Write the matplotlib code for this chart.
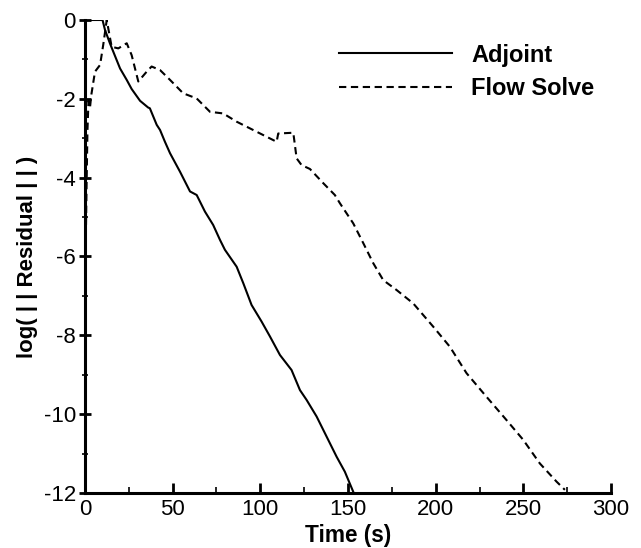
"""
Convergence history: adjoint vs flow solve
"""
import matplotlib
matplotlib.use('Agg')
import matplotlib.pyplot as plt
from matplotlib.ticker import MultipleLocator

plt.rcParams['font.family'] = ['Liberation Sans', 'DejaVu Sans']
plt.rcParams['axes.unicode_minus'] = False

#Data
adjoint_t = [0, 10, 11.4, 14.2, 18, 20, 23.8, 26.6, 31.4, 36, 37, 40.9, 42.8, 45.6, 48.5,
	54.2, 59.9, 63.7, 68.4, 73.1, 77, 79.8, 86.5, 90.3, 95, 100.7, 105.5, 111.2,
	117.8, 122.6, 126.4, 132.1, 137.8, 143.5, 148.2, 153]
adjoint_r = [0, 0, -0.25, -0.59, -1.01, -1.23, -1.52, -1.75, -2.05, -2.22, -2.24, -2.66, -2.79,
	-3.09, -3.38, -3.85, -4.35, -4.44, -4.86, -5.2, -5.58, -5.83, -6.26, -6.68, -7.23,
	-7.65, -8.03, -8.5, -8.88, -9.39, -9.64, -10.06, -10.57, -11.08, -11.46, -11.97]

flow_t = [0.4, 0.9, 1.4, 2.0, 2.9, 3.6, 5.7, 8.6, 10.4, 12.4, 15.2, 19, 23.8, 26.6, 30.4,
	35.2, 38, 42.8, 48.5, 56, 63.7, 71.3, 78.8, 86.5, 94.1, 101.7, 109.3, 110.2,
	118.8, 120.7, 123.5, 128.3, 135.9, 142.5, 145.4, 153, 158.7, 164.4, 170.1,
	177.7, 187.2, 198.6, 208.1, 217.6, 229, 240.4, 249.9, 259.4, 268.9, 273.7]
flow_r = [-5.8, -4.2, -2.8, -2.05, -2.2, -1.9, -1.31, -1.14, -0.63, 0, -0.68, -0.72, -0.59,
	-0.89, -1.56, -1.31, -1.18, -1.27, -1.52, -1.86, -1.99, -2.33, -2.37, -2.58,
	-2.75, -2.92, -3.09, -2.88, -2.86, -3.51, -3.68, -3.78, -4.14, -4.44, -4.65,
	-5.16, -5.66, -6.17, -6.6, -6.85, -7.19, -7.78, -8.29, -8.96, -9.56, -10.15,
	-10.65, -11.25, -11.71, -11.92]

fig = plt.figure(figsize=(6.41, 5.48), dpi=100)
ax = fig.add_axes([0.1326, 0.1004, 0.8206, 0.8631])

ax.plot(adjoint_t, adjoint_r, color='black', lw=1.5, label='Adjoint')
ax.plot(flow_t, flow_r, color='black', lw=1.5, linestyle=(0, (3.5, 2.2)), label='Flow Solve')

ax.set_xlim(0, 300)
ax.set_ylim(-12, 0)
ax.xaxis.set_major_locator(MultipleLocator(50))
ax.xaxis.set_minor_locator(MultipleLocator(25))
ax.yaxis.set_major_locator(MultipleLocator(2))
ax.yaxis.set_minor_locator(MultipleLocator(1))

for side in ['top', 'right']:
	ax.spines[side].set_visible(False)
for side in ['left', 'bottom']:
	ax.spines[side].set_linewidth(2.2)

ax.tick_params(axis='x', which='major', direction='in', length=7, width=2, labelsize=16, pad=4)
ax.tick_params(axis='x', which='minor', direction='in', length=4.5, width=1.2)
ax.tick_params(axis='y', which='major', direction='inout', length=9, width=2, labelsize=16, pad=2)
ax.tick_params(axis='y', which='minor', direction='inout', length=5, width=1.2)

ax.set_xlabel('Time (s)', fontsize=16.3, fontweight='bold', labelpad=3)
ax.set_ylabel('log( | | Residual | | )', fontsize=16, fontweight='bold', labelpad=4)

leg = ax.legend(loc='upper left', bbox_to_anchor=(0.483, 0.95), frameon=False,
	handlelength=4.8, handletextpad=0.8, labelspacing=0.45, borderpad=0, borderaxespad=0,
	prop={'size': 17, 'weight': 'bold'})

fig.savefig('out.png', dpi=100)
